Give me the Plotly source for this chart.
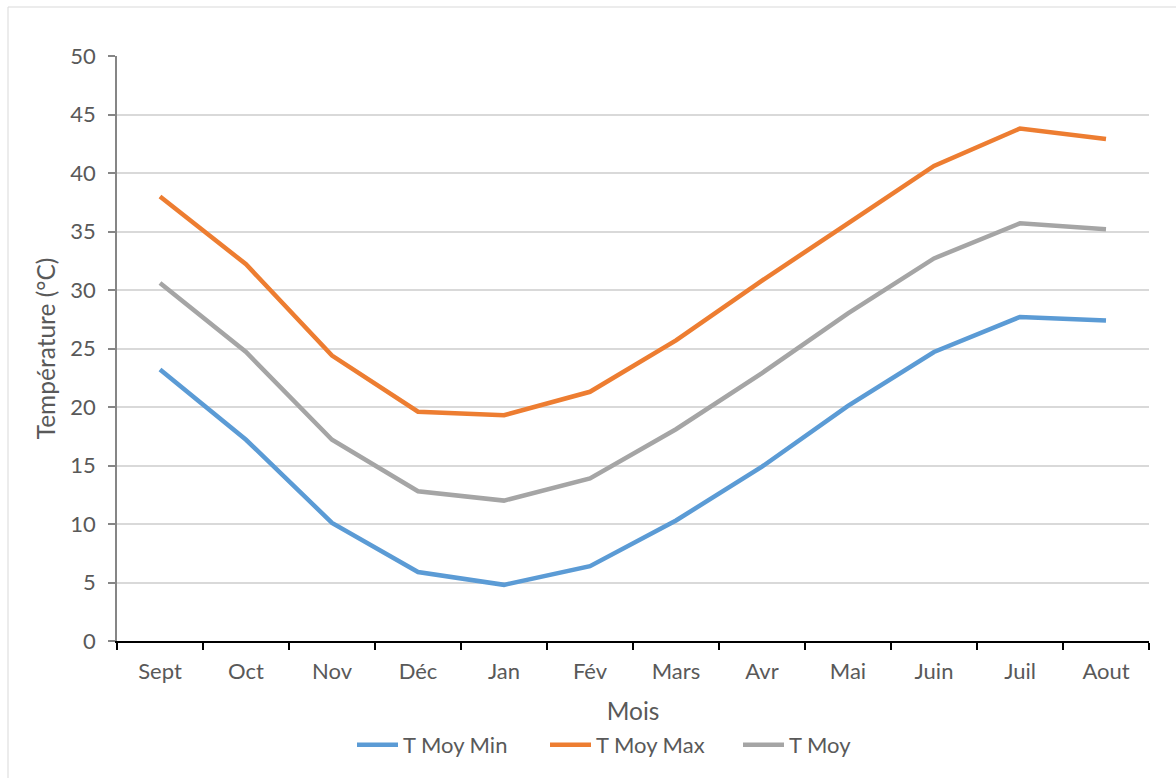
import plotly.graph_objects as go

# Monthly mean temperatures (°C), September to August
mois = ["Sept", "Oct", "Nov", "Déc", "Jan", "Fév", "Mars", "Avr", "Mai", "Juin", "Juil", "Aout"]
t_moy_min = [23.2, 17.2, 10.1, 5.9, 4.8, 6.4, 10.3, 14.9, 20.1, 24.7, 27.7, 27.4]
t_moy_max = [38.0, 32.2, 24.4, 19.6, 19.3, 21.3, 25.7, 30.8, 35.7, 40.6, 43.8, 42.9]
t_moy = [30.6, 24.7, 17.2, 12.8, 12.0, 13.9, 18.1, 22.9, 28.0, 32.7, 35.7, 35.2]

series = [
    ("T Moy Min", t_moy_min, "#5B9BD5"),
    ("T Moy Max", t_moy_max, "#ED7D31"),
    ("T Moy", t_moy, "#A5A5A5"),
]

FONT = "Lato, 'Open Sans', sans-serif"
TEXT = "#595959"

fig = go.Figure()
for name, vals, color in series:
    fig.add_trace(go.Scatter(
        x=mois, y=vals, name=name, mode="lines",
        line=dict(color=color, width=4.5),
    ))

W, H = 1176, 778
L, R, T, B = 117, 27, 56, 137
pw, ph = W - L - R, H - T - B

def px_x(x):
    return (x - L) / pw

def px_y(y):
    return (H - B - y) / ph

# Light outer frame of the chart area
fig.add_shape(
    type="rect", xref="paper", yref="paper",
    x0=px_x(8), x1=px_x(1200), y0=px_y(800), y1=px_y(7),
    line=dict(color="#D9D9D9", width=1), fillcolor="rgba(0,0,0,0)",
    layer="below",
)

fig.update_layout(
    width=W, height=H,
    margin=dict(l=L, r=R, t=T, b=B, pad=0),
    paper_bgcolor="white", plot_bgcolor="white",
    font=dict(family=FONT, size=22, color=TEXT),
    showlegend=True,
    legend=dict(
        orientation="h", x=px_x(352), xanchor="left",
        y=px_y(745), yanchor="middle",
        font=dict(size=22, color=TEXT),
        entrywidth=137, entrywidthmode="pixels",
        itemwidth=41, tracegroupgap=0,
        bgcolor="rgba(0,0,0,0)",
    ),
    xaxis=dict(
        type="category", range=[-0.5, 11.5],
        tickson="boundaries", ticks="outside", ticklen=7,
        tickcolor="#000000", tickwidth=1.5,
        showline=True, linecolor="#000000", linewidth=1.5,
        showgrid=False, zeroline=False,
        tickfont=dict(size=22, color=TEXT),
        ticklabelstandoff=10,
        title=dict(text="Mois", font=dict(size=24.5, color=TEXT), standoff=20),
        fixedrange=True,
    ),
    yaxis=dict(
        range=[0, 50], dtick=5, tick0=0,
        ticks="outside", ticklen=7, tickcolor="#868686", tickwidth=1.5,
        showline=True, linecolor="#868686", linewidth=1.5,
        showgrid=True, gridcolor="#D9D9D9", gridwidth=1.5,
        zeroline=False,
        tickfont=dict(size=22, color=TEXT),
        ticklabelstandoff=8,
        title=dict(text="Température (°C)", font=dict(size=24.5, color=TEXT), standoff=8),
        fixedrange=True,
    ),
)

fig.write_html("out.html")
